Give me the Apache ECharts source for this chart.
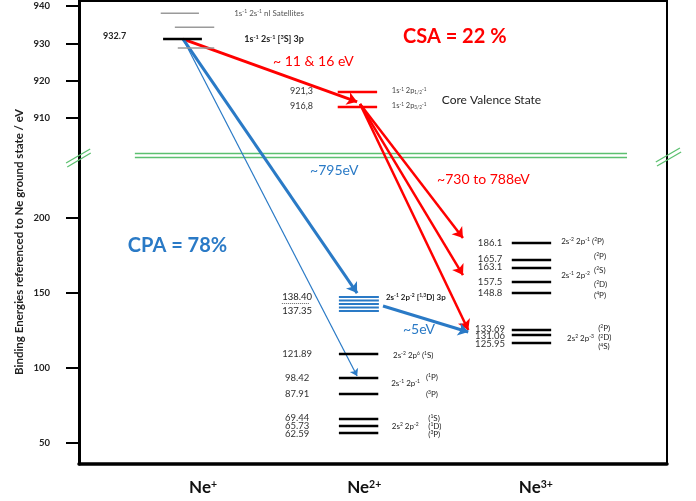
<!DOCTYPE html>
<html><head><meta charset="utf-8">
<script src="https://cdn.jsdelivr.net/npm/echarts@6/dist/echarts.min.js"></script>
<style>html,body{margin:0;padding:0;background:#fff}#c{width:696px;height:501px}</style>
</head><body><div id="c"></div>
<script>
// ================= DATA (energies in eV, as drawn) =================
const ions = ['Ne^{+}', 'Ne^{2+}', 'Ne^{3+}'];
const yTicksLower = [50, 100, 150, 200];
const yTicksUpper = [910, 920, 930, 940];

const nePlusMain = 931.2;
const nePlusMainLabel = '932.7';
const nePlusSatellites = [938.1, 934.4, 928.8];
const coreValenceLevels = [917.0, 913.0];
const coreValenceLabels = ['921,3', '916,8'];
const coreValenceTerms = ['1s^{-1} 2p_{1/2}^{-1}', '1s^{-1} 2p_{3/2}^{-1}'];
const ne2ClusterLevels = [147.2, 144.8, 142.5, 140.2, 137.8];
const ne2ClusterLabels = ['138.40', '137.35'];
const ne2Levels = [109.2, 93.2, 82.5, 65.8, 61.2, 56.5];
const ne2Labels = ['121.89', '98.42', '87.91', '69.44', '65.73', '62.59'];
const ne3Levels = [183.2, 171.8, 166.5, 157.2, 149.8, 125.2, 121.8, 116.5];
const ne3Labels = ['186.1', '165.7', '163.1', '157.5', '148.8', '133.69', '131.06', '125.95'];
// transitions: [fromEnergy, toEnergy]
const csaStep = [931.2, 914.4];
const csaFan = [[913.8, 186.5], [913.8, 161.8], [913.8, 125.2]];
const cpaThick = [931.2, 149.8];
const cpaThin = [931.2, 94.5];
const fiveEv = [141.2, 123.8];
const yAxisTitle = 'Binding Energies referenced to Ne ground state / eV';

// ================= BROKEN-AXIS SCALE =================
const T = v => v < 500 ? v : 303.67 + (v - 925) * 2.4889;
const Tinv = d => d < 260 ? d : 925 + (d - 303.67) / 2.4889;

// ================= LAYOUT =================
const FONT = 'Lato, "Noto Sans", sans-serif';
const RED = '#ff0000', BLUE = '#2a7ac6', GREEN = '#5cc070';
const colX = { nePlus: [14.3, 20.9], ne2: [44.2, 50.9], ne3: [73.6, 80.3] };
const satX = [[13.9, 20.4], [16.3, 23.0], [16.8, 23.0]];
const ionX = [21.1, 48.5, 77.7];

const levelLines = [];
satX.forEach((r, i) => levelLines.push({ x: r, e: nePlusSatellites[i], c: '#9a9a9a', w: 1.5 }));
levelLines.push({ x: colX.nePlus, e: nePlusMain, c: '#000', w: 2.5 });
coreValenceLevels.forEach(e => levelLines.push({ x: [44.0, 50.7], e, c: RED, w: 2.5 }));
ne2ClusterLevels.forEach(e => levelLines.push({ x: [44.2, 51.0], e, c: BLUE, w: 2 }));
ne2Levels.forEach(e => levelLines.push({ x: colX.ne2, e, c: '#000', w: 2.5 }));
ne3Levels.forEach(e => levelLines.push({ x: colX.ne3, e, c: '#000', w: 2.5 }));

const notes = [
  { t: nePlusMainLabel, x: 4.1, e: 932.0, fs: 9, w: 'bold' },
  { t: '1s^{-1} 2s^{-1} nl Satellites', x: 26.4, e: 938.2, fs: 8, c: '#555' },
  { t: '1s^{-1} 2s^{-1} [^{3}S] 3p', x: 28.1, e: 931.2, fs: 9, w: 'bold' },
  { t: 'CSA = 22 %', x: 55.1, e: 931.8, fs: 20, w: 'bold', c: RED },
  { t: '~ 11 & 16 eV', x: 33.0, e: 925.1, fs: 14, c: RED },
  { t: 'Core Valence State', x: 61.7, e: 914.9, fs: 12, c: '#222' },
  { t: '~795eV', x: 39.3, e: 231.8, fs: 14, c: BLUE },
  { t: '~730 to 788eV', x: 60.9, e: 225.8, fs: 14, c: RED },
  { t: 'CPA = 78%', x: 8.3, e: 181.2, fs: 20, w: 'bold', c: BLUE },
  { t: '2s^{-1} 2p^{-2} [^{1,3}D] 3p', x: 52.2, e: 147.2, fs: 8, w: 'bold' },
  { t: '~5eV', x: 55.1, e: 125.2, fs: 14, c: BLUE },
  { t: '2s^{-2} 2p^{6} (^{1}S)', x: 53.4, e: 108.5, fs: 8 },
  { t: '2s^{-1} 2p^{-1}', x: 53.1, e: 89.8, fs: 8 },
  { t: '(^{1}P)', x: 59.0, e: 93.8, fs: 8 },
  { t: '(^{3}P)', x: 59.0, e: 82.5, fs: 8 },
  { t: '2s^{2} 2p^{-2}', x: 53.2, e: 61.2, fs: 8 },
  { t: '(^{1}S)', x: 59.4, e: 66.5, fs: 8 },
  { t: '(^{1}D)', x: 59.4, e: 61.2, fs: 8 },
  { t: '(^{3}P)', x: 59.4, e: 55.8, fs: 8 },
  { t: '2s^{-2} 2p^{-1} (^{2}P)', x: 82.0, e: 184.5, fs: 8 },
  { t: '(^{2}P)', x: 87.6, e: 174.5, fs: 8 },
  { t: '(^{2}S)', x: 87.6, e: 165.2, fs: 8 },
  { t: '2s^{-1} 2p^{-2}', x: 82.0, e: 161.8, fs: 8 },
  { t: '(^{2}D)', x: 87.6, e: 155.8, fs: 8 },
  { t: '(^{4}P)', x: 87.6, e: 148.5, fs: 8 },
  { t: '(^{2}P)', x: 88.3, e: 126.5, fs: 8 },
  { t: '2s^{2} 2p^{-3}', x: 83.0, e: 119.8, fs: 8 },
  { t: '(^{2}D)', x: 88.3, e: 120.2, fs: 8 },
  { t: '(^{4}S)', x: 88.3, e: 114.2, fs: 8 }
];
coreValenceLabels.forEach((t, i) => notes.push({ t, x: 35.9, e: coreValenceLevels[i] + 0.3, fs: 9, c: '#333' }));
coreValenceTerms.forEach((t, i) => notes.push({ t, x: 53.2, e: coreValenceLevels[i] + 0.3, fs: 7.5, c: '#444' }));
ne2ClusterLabels.forEach((t, i) => notes.push({ t, x: 37.1, e: i === 0 ? 147.2 : 137.8, fs: 9.5, al: 'center' }));
ne2Labels.forEach((t, i) => notes.push({ t, x: 37.1, e: ne2Levels[i] + (i >= 3 ? [0.7, 0, -0.7][i - 3] : 0), fs: 9.5, al: 'center', c: '#333' }));
const ne3LabelShift = [0, 0.7, 0.7, 0, 0, 0.6, -0.6, -0.7];
ne3Labels.forEach((t, i) => notes.push({ t, x: 69.9, e: ne3Levels[i] + ne3LabelShift[i], fs: 9.5, al: 'center', c: '#333' }));

function toRich(s) {
  let out = '', buf = '', i = 0;
  const flush = () => { if (buf) { out += '{n|' + buf + '}'; buf = ''; } };
  while (i < s.length) {
    if ((s[i] === '^' || s[i] === '_') && s[i + 1] === '{') {
      flush();
      const j = s.indexOf('}', i);
      out += '{' + (s[i] === '^' ? 'p' : 'b') + '|' + s.slice(i + 2, j) + '}';
      i = j + 1;
    } else { buf += s[i]; i++; }
  }
  flush();
  return out;
}
function richStyles(fs, w, c) {
  return {
    n: { fontSize: fs, fontWeight: w, fontFamily: FONT, fill: c, color: c },
    p: { fontSize: Math.round(fs * 0.62 * 10) / 10, fontWeight: w, fontFamily: FONT, fill: c, color: c, verticalAlign: 'top' },
    b: { fontSize: Math.round(fs * 0.62 * 10) / 10, fontWeight: w, fontFamily: FONT, fill: c, color: c, verticalAlign: 'bottom' }
  };
}

const arrow = (coords, color, width, size) => ({
  type: 'lines', coordinateSystem: 'cartesian2d', silent: true, z: 4, clip: false,
  symbol: ['none', 'arrow'], symbolSize: size,
  lineStyle: { color, width, opacity: 1, curveness: 0 },
  data: coords.map(c => ({ coords: c }))
});
const plain = (coords, color, width, type) => ({
  type: 'lines', coordinateSystem: 'cartesian2d', silent: true, z: 3, clip: false,
  symbol: 'none', lineStyle: { color, width, opacity: 1, type: type || 'solid' },
  data: coords.map(c => ({ coords: c }))
});

const chart = echarts.init(document.getElementById('c'));
chart.setOption({
  animation: false,
  backgroundColor: '#fff',
  grid: { left: 79, right: 29, top: 1, bottom: 37, show: true, borderColor: '#000', borderWidth: 2 },
  graphic: [{
    type: 'text', x: 19, y: 242, rotation: Math.PI / 2, silent: true,
    style: { text: yAxisTitle, align: 'center', verticalAlign: 'middle', fontSize: 11.5, fontWeight: 'bold', fill: '#222', fontFamily: FONT }
  }],
  xAxis: {
    type: 'value', min: 0, max: 100,
    axisLine: { show: true, lineStyle: { color: '#000', width: 3.5 } },
    axisTick: { show: false }, splitLine: { show: false },
    axisLabel: {
      customValues: ionX, margin: 15,
      formatter: v => toRich(ions[ionX.indexOf(v)]),
      rich: richStyles(17, 'bold', '#111')
    }
  },
  yAxis: {
    type: 'value', min: 35.83, max: 344.5,
    axisLine: { show: true, lineStyle: { color: '#000', width: 3 } },
    axisTick: { show: true, customValues: yTicksLower.concat(yTicksUpper).map(T), length: 13, lineStyle: { color: '#000', width: 2 } },
    splitLine: { show: false },
    axisLabel: {
      customValues: yTicksLower.concat(yTicksUpper).map(T), margin: 29,
      formatter: v => String(Math.round(Tinv(v))),
      fontSize: 9.5, fontWeight: 'bold', color: '#222', fontFamily: FONT
    }
  },
  series: [
    // break lines
    plain([[[9.5, 243.2], [93.2, 243.2]], [[9.5, 240.5], [93.2, 240.5]],
           [[-2.2, 236.5], [1.9, 245.8]], [[-2.0, 233.8], [2.0, 243.2]],
           [[98.1, 237.2], [102.2, 246.5]], [[98.3, 234.5], [102.4, 243.8]]], GREEN, 1.3),
    plain([[[34.5, 143.2], [39.1, 143.2]]], '#666', 1, 'dotted'),
    {
      type: 'custom', silent: true, z: 5, clip: false,
      encode: { x: [0, 1], y: 2 },
      data: levelLines.map((l, i) => [l.x[0], l.x[1], T(l.e), i]),
      renderItem: (params, api) => {
        const l = levelLines[api.value(3)];
        const a = api.coord([api.value(0), api.value(2)]);
        const b = api.coord([api.value(1), api.value(2)]);
        return { type: 'line', shape: { x1: a[0], y1: a[1], x2: b[0], y2: b[1] }, style: { stroke: l.c, lineWidth: l.w } };
      }
    },
    arrow([[[17.7, T(csaStep[0])], [47.3, T(csaStep[1])]]], RED, 3, 10),
    arrow(csaFan.map((f, i) => [[47.8, T(f[0])], [[65.3, 65.3, 66.2][i], T(f[1])]]), RED, 2.5, 10),
    arrow([[[17.7, T(cpaThick[0])], [47.3, T(cpaThick[1])]]], BLUE, 3, 10),
    arrow([[[17.7, T(cpaThin[0])], [47.3, T(cpaThin[1])]]], BLUE, 1.2, 7),
    arrow([[[51.7, T(fiveEv[0])], [66.2, T(fiveEv[1])]]], BLUE, 3, 10),
    {
      type: 'custom', silent: true, z: 6, clip: false,
      encode: { x: 0, y: 1 },
      data: notes.map((n, i) => [n.x, T(n.e), i]),
      renderItem: (params, api) => {
        const n = notes[api.value(2)];
        const p = api.coord([api.value(0), api.value(1)]);
        const c = n.c || '#222', w = n.w || 'normal';
        return {
          type: 'text', x: p[0], y: p[1],
          style: {
            text: toRich(n.t), fill: c, align: n.al || 'left', verticalAlign: 'middle',
            fontFamily: FONT, fontSize: n.fs, fontWeight: w, rich: richStyles(n.fs, w, c)
          }
        };
      }
    }
  ]
});
</script></body></html>
